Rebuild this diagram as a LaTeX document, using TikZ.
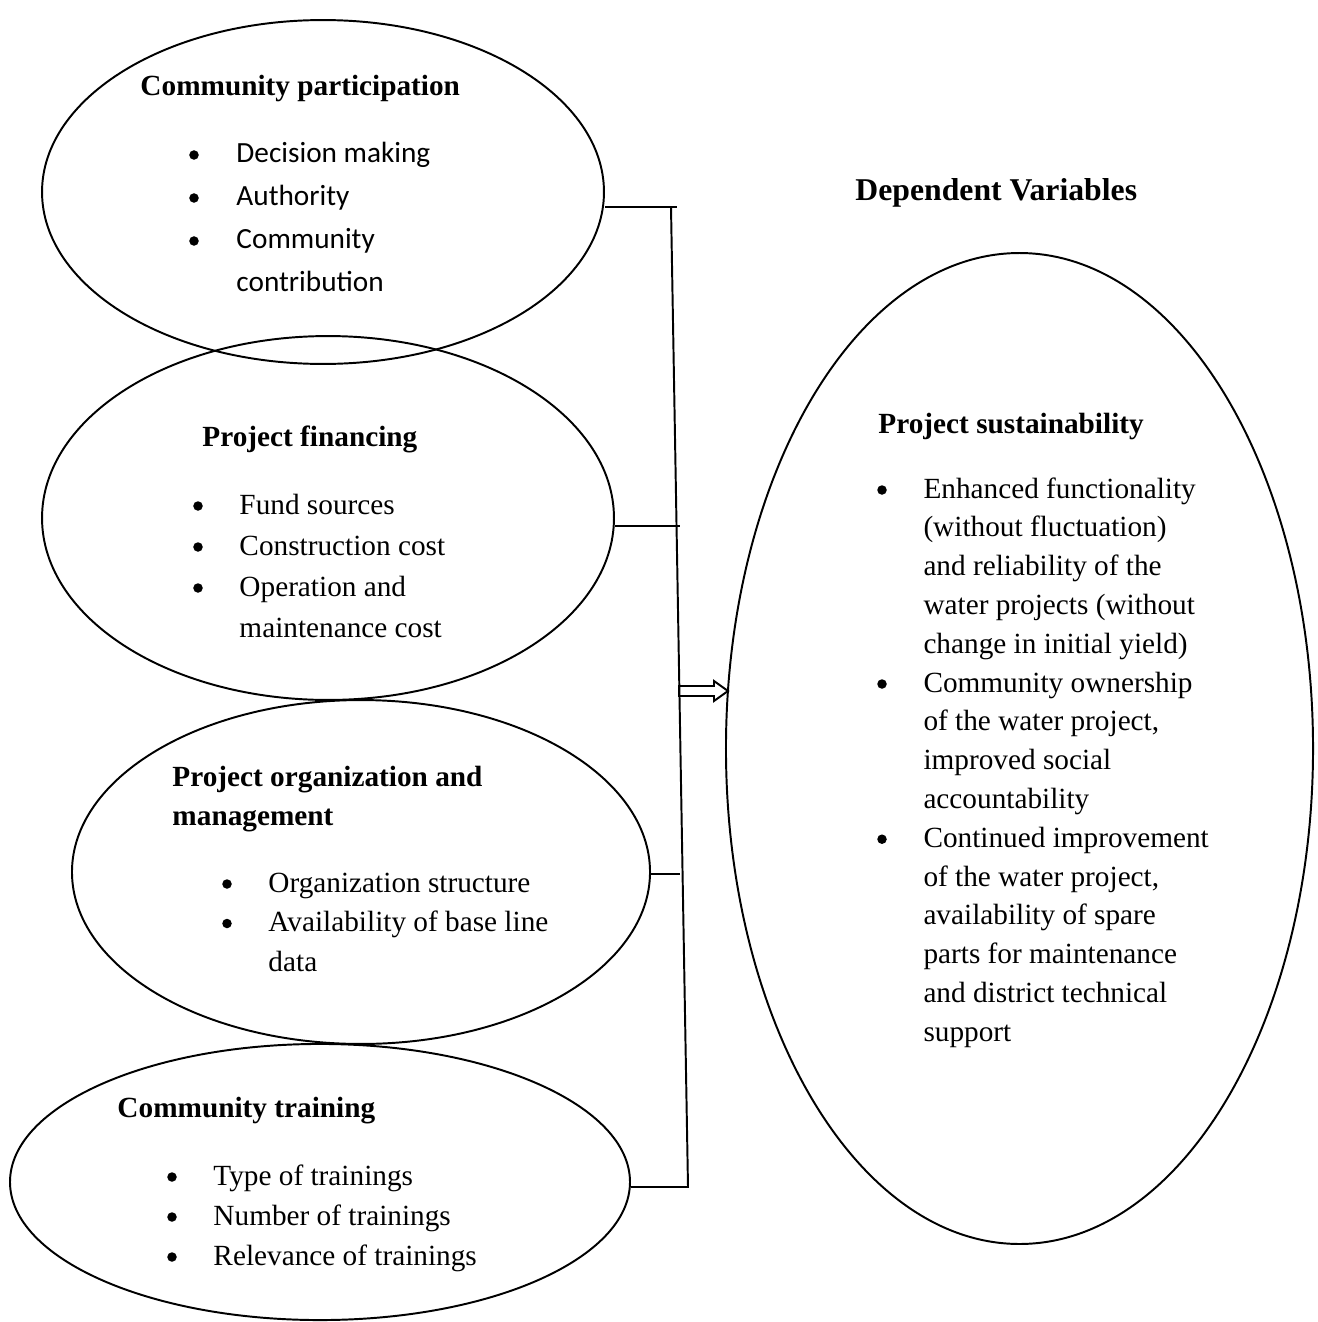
\documentclass[tikz,border=0pt]{standalone}
\usepackage{fontspec}
\setmainfont{Liberation Serif}
\newfontfamily\calibri{Carlito}
\usetikzlibrary{shapes.geometric}

\begin{document}
\begin{tikzpicture}
        [
            x = 0.41pt, y = -0.41pt,
            oval/.style = {draw, ellipse, line width = 0.8pt, inner sep = 0pt},
            head/.style = {anchor = base west, inner sep = 0pt, font = \fontsize{12}{14}\selectfont\bfseries},
            item/.style = {anchor = base west, inner sep = 0pt, font = \fontsize{12}{14}\selectfont},
            dot/.style = {circle, fill, inner sep = 0pt, minimum size = 3.9pt},
            link/.style = {line width = 0.8pt}
        ]

        \useasboundingbox (0,0) rectangle (1317,1322);

        \node[oval, minimum width = 230.4pt, minimum height = 141pt] (cp) at (323,192) {};
        \node[oval, minimum width = 234.5pt, minimum height = 149.2pt] (pf) at (328,518) {};
        \node[oval, minimum width = 237pt, minimum height = 141pt] (pom) at (361,872) {};
        \node[oval, minimum width = 254.2pt, minimum height = 113.2pt] (ct) at (320,1182) {};
        \node[oval, minimum width = 240.7pt, minimum height = 406.3pt] (ps) at (1019.5,748.5) {};

        \node[head] (cph) at (140,95) {Community participation};
        \foreach \txt [count = \i from 0] in {Decision making, Authority, Community, contribution}
            \node[item, font = \fontsize{12}{14}\calibri] (cp\i) at (236,{162+43*\i}) {\txt};
        \foreach \i in {0,1,2}
            \node[dot] (cpd\i) at (194,{155+43*\i}) {};

        \node[head] (pfh) at (202,446) {Project financing};
        \foreach \txt [count = \i from 0] in {Fund sources, Construction cost, Operation and, maintenance cost}
            \node[item] (pf\i) at (239,{514+41*\i}) {\txt};
        \foreach \i in {0,1,2}
            \node[dot] (pfd\i) at (198,{506+41*\i}) {};

        \node[head] (pomh) at (172,786) {Project organization and};
        \node[head] (pomh2) at (172,825) {management};
        \foreach \txt [count = \i from 0] in {Organization structure, Availability of base line, data}
            \node[item] (pom\i) at (268,{892+39.5*\i}) {\txt};
        \foreach \i in {0,1}
            \node[dot] (pomd\i) at (227,{884+39.5*\i}) {};

        \node[head] (cth) at (117,1117) {Community training};
        \foreach \txt [count = \i from 0] in {Type of trainings, Number of trainings, Relevance of trainings}
            \node[item] (ct\i) at (213,{1185+40*\i}) {\txt};
        \foreach \i in {0,1,2}
            \node[dot] (ctd\i) at (172,{1177+40*\i}) {};

        \node[head, font = \fontsize{13}{15}\selectfont\bfseries] (dv) at (855,200) {Dependent Variables};
        \node[head] (psh) at (878,433) {Project sustainability};
        \foreach \txt [count = \i from 0] in {Enhanced functionality, (without fluctuation), and reliability of the,
            water projects (without, change in initial yield), Community ownership, {of the water project,},
            improved social, accountability, Continued improvement, {of the water project,},
            availability of spare, parts for maintenance, and district technical, support}
            \node[item] (ps\i) at (923,{498+38.8*\i}) {\txt};
        \foreach \i in {0,5,9}
            \node[dot] (psd\i) at (882,{490+38.8*\i}) {};

        \coordinate (top) at (671,207);
        \coordinate (j1) at (677,207);
        \coordinate (j2) at (680,526);
        \coordinate (j3) at (680,874);
        \coordinate (bot) at (688,1187);
        \draw[link] (cp.east |- j1) -- (j1);
        \draw[link] (pf.east |- j2) -- (j2);
        \draw[link] (pom.east |- j3) -- (j3);
        \draw[link] (ct.east |- bot) -- (bot) -- (top);

        \coordinate (tail) at (679,691);
        \coordinate (tip) at (728,691);
        \draw[link, line join = miter] (tail) ++(0,-5) -- ++(35,0) -- ++(0,-5) -- (tip)
            -- ++(-14,10) -- ++(0,-5) -- ++(-35,0) -- cycle;
        \end{tikzpicture}
\end{document}
